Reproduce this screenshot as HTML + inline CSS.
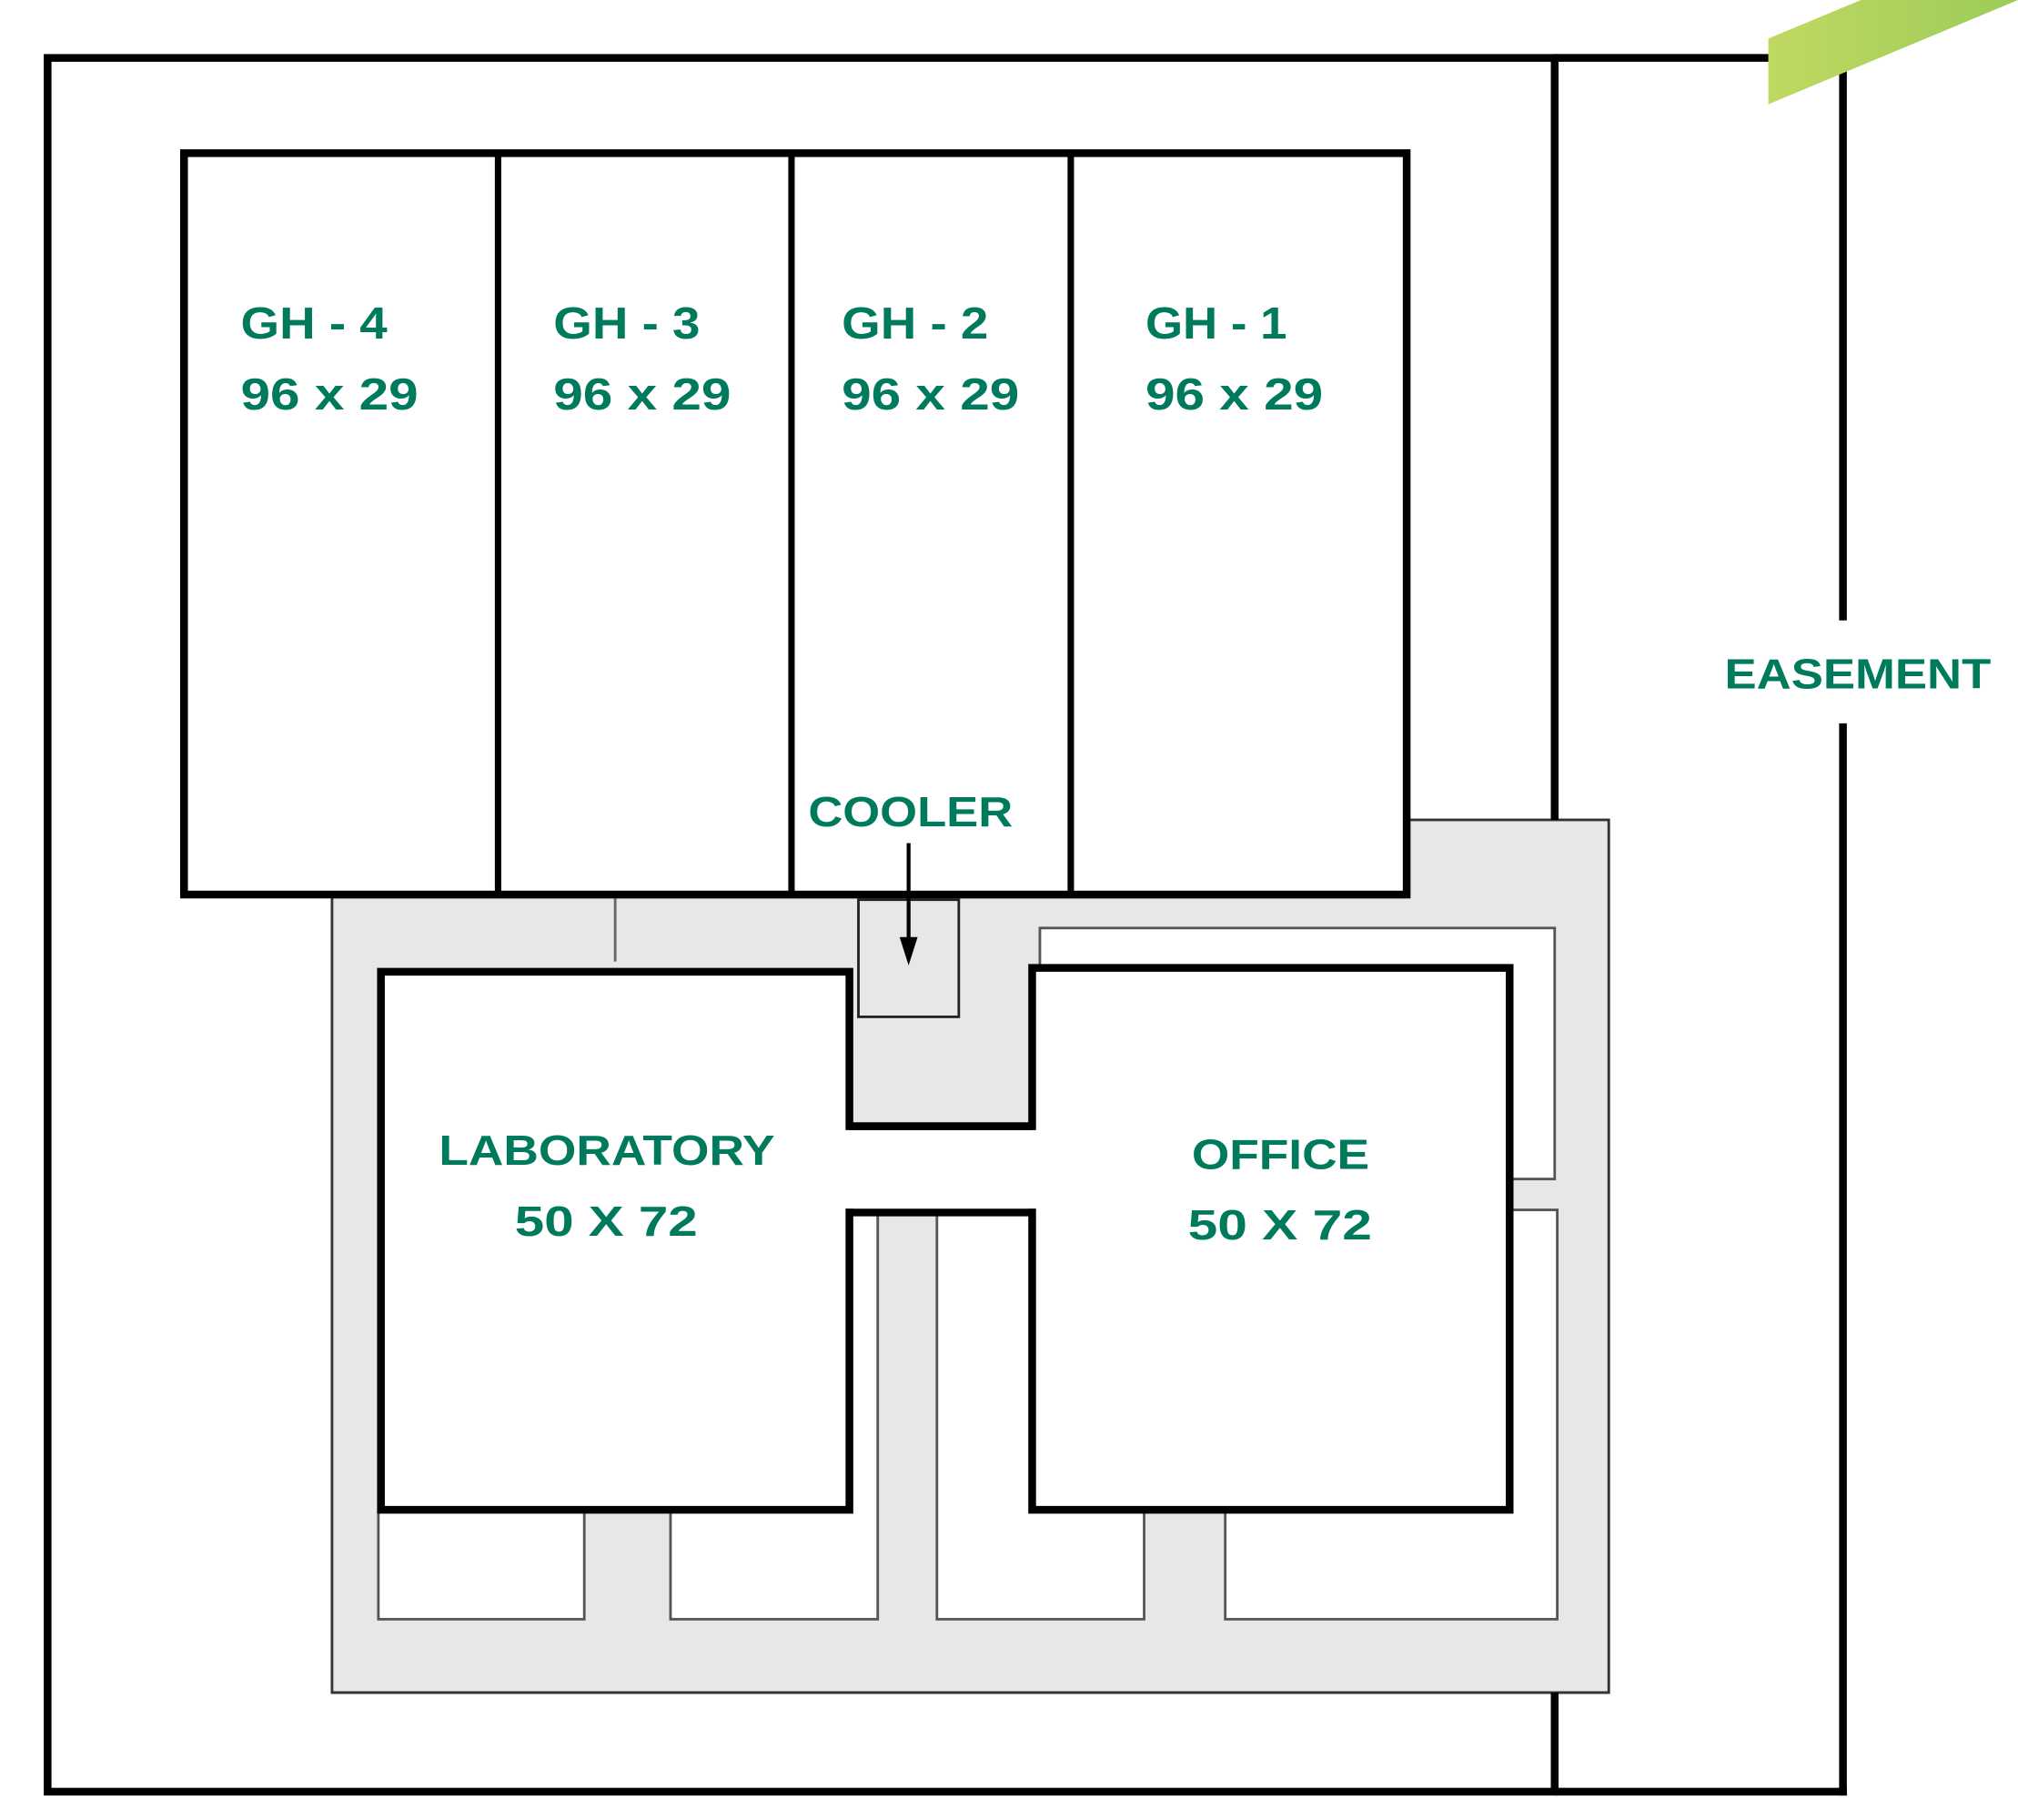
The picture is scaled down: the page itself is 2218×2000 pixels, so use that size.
<!DOCTYPE html>
<html><head><meta charset="utf-8"><style>html,body{margin:0;padding:0;background:#fff}svg{display:block}</style></head>
<body>
<svg width="2218" height="2000" viewBox="0 0 1568 1414" preserveAspectRatio="none" xmlns="http://www.w3.org/2000/svg">
<defs><linearGradient id="g" x1="0" y1="0" x2="1" y2="0"><stop offset="0" stop-color="#bfd962"/><stop offset="1" stop-color="#9ccb58"/></linearGradient></defs>
<rect width="1568" height="1414" fill="#fff"/>
<!-- gray circulation area -->
<polygon points="258,697 258,1315 1250,1315 1250,637 1093,637 1093,697" fill="#e6e7e8" stroke="#333" stroke-width="2"/>
<!-- outer frame -->
<rect x="37" y="45" width="1171" height="1347" fill="none" stroke="#000" stroke-width="6"/>
<rect x="258" y="697" width="992" height="618" fill="#e6e7e8" stroke="none"/>
<polygon points="258,697 258,1315 1250,1315 1250,637 1093,637 1093,697" fill="#e6e7e8" stroke="#333" stroke-width="2"/>
<line x1="1208" y1="45" x2="1208" y2="637" stroke="#000" stroke-width="6"/>
<line x1="1208" y1="1315" x2="1208" y2="1392" stroke="#000" stroke-width="6"/>
<!-- easement -->
<line x1="1208" y1="45" x2="1376" y2="45" stroke="#000" stroke-width="6"/>
<line x1="1432" y1="55" x2="1432" y2="482" stroke="#000" stroke-width="6"/>
<line x1="1432" y1="562" x2="1432" y2="1395" stroke="#000" stroke-width="6"/>
<line x1="1208" y1="1392" x2="1435" y2="1392" stroke="#000" stroke-width="6"/>
<polygon points="1374,30 1446,0 1568,0 1568,0 1374,81" fill="url(#g)"/>
<!-- greenhouses -->
<rect x="143" y="119" width="950" height="576" fill="#fff" stroke="#000" stroke-width="6"/>
<line x1="387" y1="119" x2="387" y2="695" stroke="#000" stroke-width="5"/>
<line x1="615" y1="119" x2="615" y2="695" stroke="#000" stroke-width="5"/>
<line x1="832" y1="119" x2="832" y2="695" stroke="#000" stroke-width="5"/>
<line x1="478" y1="698" x2="478" y2="747" stroke="#666" stroke-width="2"/>
<!-- sub rooms -->
<g fill="#fff" stroke="#555" stroke-width="2">
<rect x="808" y="721" width="400" height="195"/>
<rect x="952" y="940" width="258" height="318"/>
<rect x="728" y="942" width="161" height="316"/>
<rect x="521" y="942" width="161" height="316"/>
<rect x="294" y="1173" width="160" height="85"/>
</g>
<!-- cooler -->
<rect x="667" y="699" width="78" height="91" fill="#e6e7e8" stroke="#222" stroke-width="2"/>
<!-- lab + office -->
<polygon points="296,755 660,755 660,875 802,875 802,752 1173,752 1173,1173 802,1173 802,942 660,942 660,1173 296,1173" fill="#fff" stroke="#000" stroke-width="6"/>
<line x1="660" y1="875" x2="802" y2="875" stroke="#000" stroke-width="6"/>
<rect x="663" y="879" width="136" height="60" fill="#fff"/>
<!-- arrow -->
<line x1="706" y1="655" x2="706" y2="735" stroke="#000" stroke-width="3"/>
<polygon points="699,728 713,728 706,750" fill="#000"/>
<!-- labels -->
<g fill="#007a5c" font-family="Liberation Sans, Arial, sans-serif" font-weight="bold">
<text x="187" y="263" font-size="35" textLength="114" lengthAdjust="spacingAndGlyphs">GH - 4</text>
<text x="187" y="318" font-size="35" textLength="138" lengthAdjust="spacingAndGlyphs">96 x 29</text>
<text x="430" y="263" font-size="35" textLength="114" lengthAdjust="spacingAndGlyphs">GH - 3</text>
<text x="430" y="318" font-size="35" textLength="138" lengthAdjust="spacingAndGlyphs">96 x 29</text>
<text x="654" y="263" font-size="35" textLength="114" lengthAdjust="spacingAndGlyphs">GH - 2</text>
<text x="654" y="318" font-size="35" textLength="138" lengthAdjust="spacingAndGlyphs">96 x 29</text>
<text x="890" y="263" font-size="35" textLength="110" lengthAdjust="spacingAndGlyphs">GH - 1</text>
<text x="890" y="318" font-size="35" textLength="138" lengthAdjust="spacingAndGlyphs">96 x 29</text>
<text x="628" y="642" font-size="33" textLength="159" lengthAdjust="spacingAndGlyphs">COOLER</text>
<text x="341" y="905" font-size="33" textLength="261" lengthAdjust="spacingAndGlyphs">LABORATORY</text>
<text x="400" y="960" font-size="33" textLength="142" lengthAdjust="spacingAndGlyphs">50 X 72</text>
<text x="926" y="908" font-size="33" textLength="138" lengthAdjust="spacingAndGlyphs">OFFICE</text>
<text x="923" y="963" font-size="33" textLength="143" lengthAdjust="spacingAndGlyphs">50 X 72</text>
<text x="1340" y="535" font-size="33" textLength="207" lengthAdjust="spacingAndGlyphs">EASEMENT</text>
</g>
</svg>
</body></html>
